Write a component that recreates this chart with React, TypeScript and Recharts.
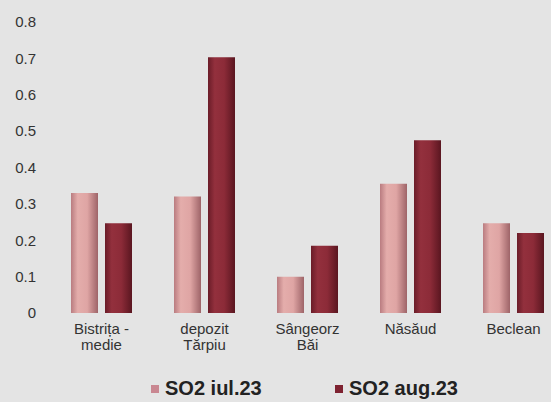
import React from "react";
import { BarChart, Bar, XAxis, YAxis, Legend } from "recharts";

const stations = ["Bistrița -|medie", "depozit|Tărpiu", "Sângeorz|Băi", "Năsăud", "Beclean"];
const so2Jul = [0.33, 0.32, 0.1, 0.355, 0.247];
const so2Aug = [0.247, 0.703, 0.185, 0.475, 0.22];
const yTicks = [0, 0.1, 0.2, 0.3, 0.4, 0.5, 0.6, 0.7, 0.8];

const data = stations.map((name, i) => ({ name, jul: so2Jul[i], aug: so2Aug[i] }));

const FONT = "Liberation Sans, Arial, sans-serif";

const StationTick = (props: any) => {
    const { x, y, payload } = props;
    const lines = String(payload.value).split("|");
    return (
        <text x={x} y={y} textAnchor="middle" fill="#333" fontSize={15} fontFamily={FONT}>
            {lines.map((l, i) => (
                <tspan key={i} x={x} dy={i === 0 ? 13 : 16}>{l}</tspan>
            ))}
        </text>
    );
};

const LegendBox = () => (
    <div style={{ position: "relative", height: 41, fontFamily: FONT, fontWeight: "bold", fontSize: 20, color: "#222" }}>
        <span style={{ position: "absolute", left: 151, top: 16, display: "flex", alignItems: "center" }}>
            <span style={{ width: 8, height: 8, background: "#c98791", marginRight: 6 }} />SO2 iul.23
        </span>
        <span style={{ position: "absolute", left: 335, top: 16, display: "flex", alignItems: "center" }}>
            <span style={{ width: 8, height: 8, background: "#7e2231", marginRight: 6 }} />SO2 aug.23
        </span>
    </div>
);

export default function App() {
    return (
        <div style={{ position: "fixed", left: 0, top: 0, width: 551, height: 402, overflow: "hidden", background: "#e4e4e4" }}>
            <BarChart width={570} height={402} data={data} margin={{ top: 22, right: 5, left: 0, bottom: 0 }} barGap={7} barSize={27}>
                <defs>
                    <linearGradient id="gJul" x1="0" y1="0" x2="1" y2="0">
                        <stop offset="0%" stopColor="#b97c80" />
                        <stop offset="25%" stopColor="#e4adab" />
                        <stop offset="60%" stopColor="#dfa5a4" />
                        <stop offset="100%" stopColor="#9e6468" />
                    </linearGradient>
                    <linearGradient id="gAug" x1="0" y1="0" x2="1" y2="0">
                        <stop offset="0%" stopColor="#6a1c28" />
                        <stop offset="25%" stopColor="#93303d" />
                        <stop offset="60%" stopColor="#8c2b38" />
                        <stop offset="100%" stopColor="#5a1620" />
                    </linearGradient>
                </defs>
                <XAxis dataKey="name" axisLine={false} tickLine={false} tick={<StationTick />} interval={0} height={48} />
                <YAxis domain={[0, 0.8]} ticks={yTicks} axisLine={false} tickLine={false} width={50}
                    tick={{ fill: "#333", fontSize: 15, fontFamily: FONT }} tickMargin={8} />
                <Legend content={<LegendBox />} verticalAlign="bottom" height={41} wrapperStyle={{ left: 0, width: 551 }} />
                <Bar dataKey="jul" name="SO2 iul.23" fill="url(#gJul)" isAnimationActive={false} />
                <Bar dataKey="aug" name="SO2 aug.23" fill="url(#gAug)" isAnimationActive={false} />
            </BarChart>
        </div>
    );
}
